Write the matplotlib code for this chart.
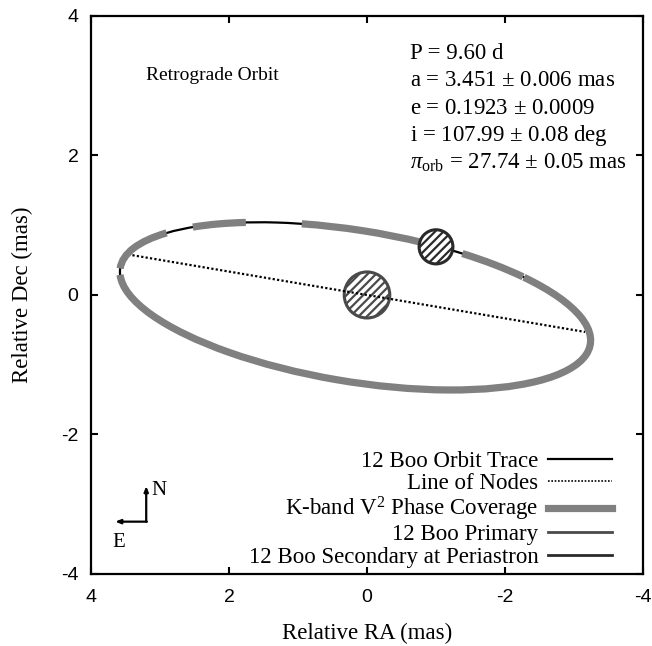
import matplotlib
matplotlib.use('Agg')
import matplotlib.pyplot as plt
from matplotlib.patches import Arc, Circle
from matplotlib.lines import Line2D

# projected orbit ellipse (mas, deg)
ORBIT_CENTER = (0.17, -0.16)
ORBIT_WIDTH = 6.90
ORBIT_HEIGHT = 2.17
ORBIT_ANGLE = 9.1

# K-band V^2 phase coverage, as angle ranges on the ellipse (deg)
COVERAGE = [(-0.1, 11.9), (16.6, 28.0), (47.6, 128.0), (145.0, 161.1), (161.3, 358.4)]

NODES_RA = [3.40, -3.16]
NODES_DEC = [0.57, -0.53]

PRIMARY = (0.0, 0.0, 0.33)       # ra, dec, radius
SECONDARY = (-1.0, 0.69, 0.245)

TICKS = [4, 2, 0, -2, -4]

PARAMS = ['P = 9.60 d',
          'a = 3.451 $\\pm$ 0.006 mas',
          'e = 0.1923 $\\pm$ 0.0009',
          'i = 107.99 $\\pm$ 0.08 deg',
          '$\\pi_{\\rm orb}$ = 27.74 $\\pm$ 0.05 mas']

LABELS = ['12 Boo Orbit Trace', 'Line of Nodes', 'K-band V$^2$ Phase Coverage',
          '12 Boo Primary', '12 Boo Secondary at Periastron']

plt.rcParams.update({'font.family': 'Liberation Serif', 'mathtext.fontset': 'custom',
                     'mathtext.rm': 'Liberation Serif', 'mathtext.it': 'Liberation Serif:italic',
                     'hatch.linewidth': 1.6})

fig = plt.figure(figsize=(6.52, 6.46), dpi=100)
ax = fig.add_axes([0.1396, 0.1115, 0.8466, 0.8638])

# full orbit trace, then the covered phases over it
ax.add_patch(Arc(ORBIT_CENTER, ORBIT_WIDTH, ORBIT_HEIGHT, angle=ORBIT_ANGLE,
                 color='black', lw=1.6, zorder=2))
for t1, t2 in COVERAGE:
    a = Arc(ORBIT_CENTER, ORBIT_WIDTH, ORBIT_HEIGHT, angle=ORBIT_ANGLE,
            theta1=t1, theta2=t2, color='#808080', lw=5.2, zorder=3)
    a.set_capstyle('butt')
    ax.add_patch(a)

for ra, dec, r, col in [(*PRIMARY, '#4a4a4a'), (*SECONDARY, '#2a2a2a')]:
    ax.add_patch(Circle((ra, dec), r, facecolor='white', edgecolor=col,
                        hatch='////', lw=2.2, zorder=4))

ax.plot(NODES_RA, NODES_DEC, color='black', lw=1.6, ls=(0, (1, 1)), zorder=5)

ax.set_xlim(4, -4)
ax.set_ylim(-4, 4)
ax.set_xticks(TICKS)
ax.set_yticks(TICKS)
ax.set_xticklabels([str(t) for t in TICKS], family='Liberation Sans', fontsize=14)
ax.set_yticklabels([str(t) for t in TICKS], family='Liberation Sans', fontsize=14)
ax.tick_params(direction='in', length=5, width=1.5, top=True, right=True)
ax.tick_params(axis='x', pad=11)
ax.tick_params(axis='y', pad=9)
for s in ax.spines.values():
    s.set_linewidth(1.6)

ax.set_xlabel('Relative RA (mas)', fontsize=16.5, labelpad=12)
ax.set_ylabel('Relative Dec (mas)', fontsize=16.5, labelpad=20)

ax.text(3.2, 3.15, 'Retrograde Orbit', fontsize=14, va='center')
for k, line in enumerate(PARAMS):
    ax.text(-0.63, 3.46 - 0.392 * k, line, fontsize=16.5, va='center')

# compass
ax.annotate('', xy=(3.2, -2.74), xytext=(3.2, -3.25),
            arrowprops=dict(arrowstyle='-|>,head_length=0.3,head_width=0.12', lw=1.6,
                            color='black', shrinkA=0, shrinkB=0))
ax.annotate('', xy=(3.65, -3.25), xytext=(3.19, -3.25),
            arrowprops=dict(arrowstyle='-|>,head_length=0.3,head_width=0.12', lw=1.6,
                            color='black', shrinkA=0, shrinkB=0))
ax.text(3.12, -2.8, 'N', fontsize=15, va='center', ha='left')
ax.text(3.6, -3.55, 'E', fontsize=15, va='center', ha='center')

handles = [Line2D([], [], color='black', lw=1.6),
           Line2D([], [], color='black', lw=1.2, ls=(0, (1, 1))),
           Line2D([], [], color='#808080', lw=5.2),
           Line2D([], [], color='#4a4a4a', lw=2.0),
           Line2D([], [], color='#2a2a2a', lw=2.0)]
ax.legend(handles, LABELS, loc='lower right', frameon=False, markerfirst=False,
          fontsize=16.5, handlelength=2.8, handletextpad=0.4, labelspacing=0.05,
          borderaxespad=0.0, bbox_to_anchor=(0.96, -0.005))

fig.savefig('out.png', dpi=100)
